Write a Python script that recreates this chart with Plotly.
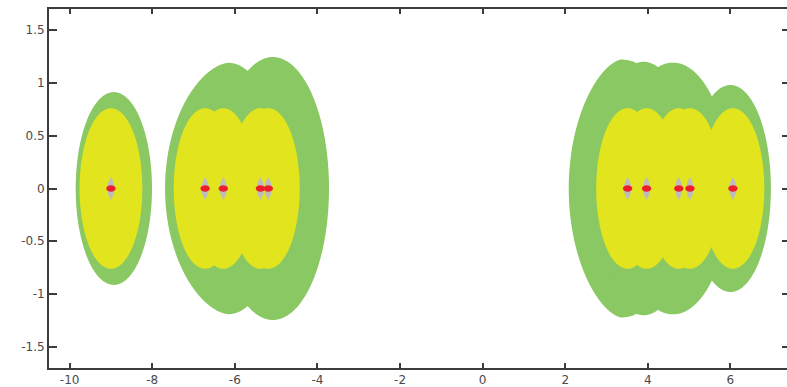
import numpy as np
import plotly.graph_objects as go

# ---- data ----
eig_x = [-9.0, -6.72, -6.28, -5.38, -5.19, 3.51, 3.97, 4.75, 5.02, 6.06]
inner_radius = 0.76          # yellow discs
gray_halfwidth = 0.088       # gray lens around each eigenvalue
gray_halfheight = 0.107
red_halfwidth = 0.113        # red marker ellipse
red_halfheight = 0.03

# outer (green) region, described as lobes
lobe_c = [-8.93, -6.15, -5.08, 3.36, 3.90, 4.61, 6.00]
lobe_aL = [0.924, 1.54, 1.36, 1.275, 1.20, 1.38, 0.98]
lobe_aR = [0.924, 1.30, 1.36, 1.60, 1.20, 1.38, 0.98]
lobe_b = [0.913, 1.19, 1.245, 1.221, 1.20, 1.192, 0.98]
lobe_pL = [2.0, 1.7, 2.0, 1.6, 2.0, 2.0, 2.0]
lobe_pR = [2.0, 2.0, 2.0, 2.0, 2.0, 2.0, 2.0]

x_ticks = [-10, -8, -6, -4, -2, 0, 2, 4, 6]
x_ticktext = ["-10", "-8", "-6", "-4", "-2", "0", "2", "4", "6"]
y_ticks = [-1.5, -1, -0.5, 0, 0.5, 1, 1.5]
y_ticktext = ["-1.5", "-1", "-0.5", "0", "0.5", "1", "1.5"]

GREEN = "#8ac864"
YELLOW = "#e2e41d"
GRAY = "#bdbdbf"
RED = "#ee1d2b"
AXC = "#3c3c3c"

t = np.linspace(0, 2 * np.pi, 721)


def lobe(c, aL, aR, b, pL=2.0, pR=2.0):
    ct, st = np.cos(t), np.sin(t)
    mag = np.abs(ct)
    x = np.where(ct < 0, c - aL * mag ** (2.0 / pL), c + aR * mag ** (2.0 / pR))
    y = b * st
    return x, y


fig = go.Figure()


def add_poly(x, y, color):
    fig.add_trace(go.Scatter(x=x, y=y, fill="toself", mode="none",
                             fillcolor=color, hoverinfo="skip"))


for c, aL, aR, b, pL, pR in zip(lobe_c, lobe_aL, lobe_aR, lobe_b, lobe_pL, lobe_pR):
    add_poly(*lobe(c, aL, aR, b, pL, pR), GREEN)

for c in eig_x:
    add_poly(*lobe(c, inner_radius, inner_radius, inner_radius), YELLOW)

for c in eig_x:
    add_poly(*lobe(c, gray_halfwidth, gray_halfwidth, gray_halfheight, 1.0, 1.0), GRAY)

for c in eig_x:
    add_poly(*lobe(c, red_halfwidth, red_halfwidth, red_halfheight), RED)

# empty trace to carry the right-hand tick axis
fig.add_trace(go.Scatter(x=[], y=[], yaxis="y2", hoverinfo="skip"))

tickfont = dict(family="DejaVu Sans", size=12, color="#4a4a4a")

fig.update_layout(
    width=787, height=387,
    autosize=False,
    margin=dict(l=49, r=0, t=9, b=18),
    plot_bgcolor="white", paper_bgcolor="white",
    showlegend=False,
    xaxis=dict(range=[-10.5, 7.37], tickvals=x_ticks, ticktext=x_ticktext,
               ticks="inside", ticklen=5, tickwidth=2, tickcolor=AXC,
               showline=True, linewidth=2, linecolor=AXC, mirror="ticks",
               showgrid=False, zeroline=False, tickfont=tickfont),
    yaxis=dict(range=[-1.7, 1.7], tickvals=y_ticks, ticktext=y_ticktext,
               ticks="inside", ticklen=8, tickwidth=2, tickcolor=AXC,
               showline=True, linewidth=2, linecolor=AXC, mirror=False,
               showgrid=False, zeroline=False, tickfont=tickfont),
    yaxis2=dict(range=[-1.7, 1.7], overlaying="y", side="right",
                tickvals=y_ticks, ticks="inside", ticklen=5, tickwidth=2,
                tickcolor=AXC, showticklabels=False, showline=False,
                showgrid=False, zeroline=False),
)

post = ("document.body.style.margin='0';document.body.style.padding='0';"
        "document.body.style.overflow='hidden';"
        "var gd=document.getElementById('{plot_id}');"
        "Plotly.relayout(gd,{width:787,height:387});")

fig.write_html("out.html", config={"responsive": False, "displayModeBar": False},
               post_script=post)
